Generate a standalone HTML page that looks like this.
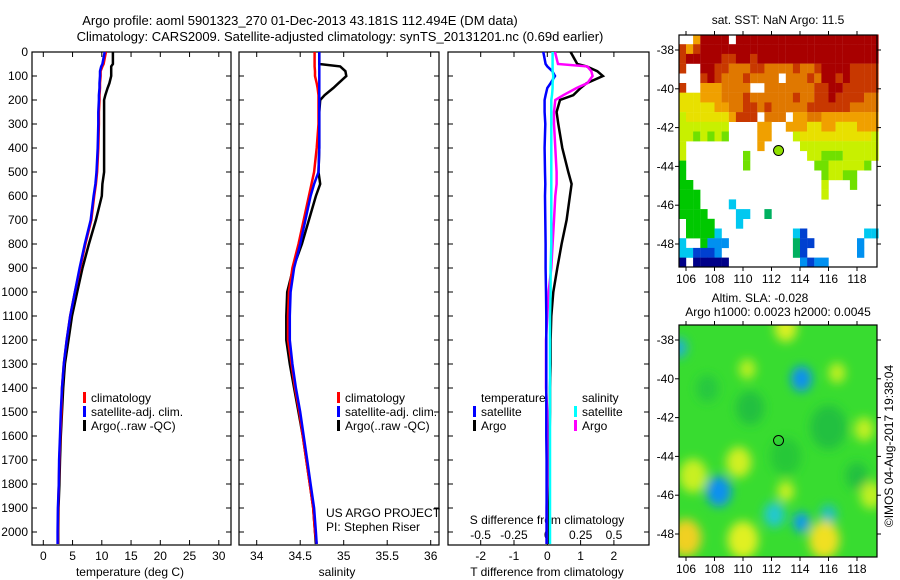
<!DOCTYPE html>
<html><head><meta charset="utf-8">
<style>
body{margin:0;background:#fff;}
svg{display:block;font-family:"Liberation Sans",sans-serif;font-size:12px;}
</style></head>
<body>
<svg id="fig" width="900" height="580" viewBox="0 0 900 580" xmlns="http://www.w3.org/2000/svg">
<defs>
<filter id="blur" x="-50%" y="-50%" width="200%" height="200%"><feGaussianBlur stdDeviation="5"/></filter>
<clipPath id="clipMap2"><rect x="679" y="325" width="198" height="232"/></clipPath>
</defs>
<text x="300" y="25" text-anchor="middle" font-size="13">Argo profile: aoml 5901323_270 01-Dec-2013 43.181S 112.494E (DM data)</text>
<text x="340" y="41" text-anchor="middle" font-size="13">Climatology: CARS2009. Satellite-adjusted climatology: synTS_20131201.nc (0.69d earlier)</text>
<g id="plots"></g>
</svg>
<script>
// ---- data (depth profiles) ----
const depths = [0,50,60,80,100,130,150,180,200,250,300,400,500,550,600,700,800,900,1000,1100,1200,1300,1400,1500,1600,1700,1800,1900,2000,2050];
const climT = [10.7,10.3,10.1,9.8,9.8,9.7,9.7,9.6,9.6,9.5,9.5,9.4,9.2,9.0,8.7,8.2,7.2,6.3,5.4,4.6,4.0,3.5,3.2,3.1,2.9,2.75,2.65,2.55,2.5,2.5];
const satT = [10.5,10.1,9.9,9.7,9.7,9.6,9.6,9.5,9.5,9.4,9.4,9.3,9.1,8.9,8.6,8.1,7.1,6.2,5.4,4.6,4.0,3.5,3.2,3.0,2.85,2.7,2.65,2.5,2.45,2.45];
const argoT = [11.9,11.9,11.6,11.6,11.6,11.3,11.0,10.6,10.4,10.4,10.4,10.4,10.4,10.1,10.0,9.0,7.8,6.7,5.8,4.9,4.3,3.7,3.4,3.2,3.0,2.85,2.75,2.6,2.55,2.55];
const climS = [34.665,34.665,34.665,34.67,34.67,34.69,34.70,34.71,34.71,34.71,34.71,34.69,34.66,34.63,34.60,34.54,34.48,34.41,34.37,34.36,34.36,34.40,34.44,34.49,34.53,34.57,34.61,34.65,34.67,34.69];
const satS = [34.72,34.72,34.72,34.72,34.72,34.72,34.72,34.72,34.72,34.72,34.72,34.72,34.71,34.66,34.62,34.56,34.50,34.43,34.39,34.38,34.38,34.41,34.45,34.50,34.54,34.58,34.62,34.66,34.68,34.69];
const argoS = [34.72,34.72,34.96,35.02,35.03,34.94,34.88,34.78,34.73,34.72,34.72,34.72,34.71,34.73,34.68,34.60,34.52,34.42,34.35,34.34,34.34,34.38,34.43,34.48,34.53,34.57,34.61,34.65,34.67,34.68];
const dArgoT = [0.7,0.9,1.18,1.5,1.67,1.18,1.0,0.78,0.38,0.28,0.33,0.45,0.63,0.73,0.68,0.58,0.43,0.3,0.18,0.12,0.1,0.1,0.08,0.08,0.07,0.06,0.06,0.05,0.05,0.05];
const dArgoS = [0.058,0.08,0.3,0.33,0.34,0.3,0.22,0.12,0.06,0.05,0.05,0.06,0.07,0.07,0.06,0.05,0.04,0.03,0.01,0,-0.01,-0.01,-0.01,0,0,0,0,-0.005,-0.005,-0.005];
const dSatT = [-0.12,-0.05,0.0,0.15,0.23,0.1,0.0,-0.05,-0.08,-0.08,-0.06,-0.08,-0.07,-0.06,-0.07,-0.06,-0.05,-0.05,-0.04,-0.03,-0.03,-0.03,-0.03,-0.03,-0.03,-0.02,-0.02,-0.02,-0.02,-0.02];
const dSatS = [0.04,0.04,0.04,0.04,0.045,0.04,0.04,0.035,0.03,0.03,0.03,0.03,0.03,0.03,0.03,0.03,0.03,0.025,0.025,0.02,0.02,0.02,0.02,0.02,0.02,0.02,0.02,0.02,0.02,0.02];
const depthTicks = [0,100,200,300,400,500,600,700,800,900,1000,1100,1200,1300,1400,1500,1600,1700,1800,1900,2000];
const tempTicks = [0,5,10,15,20,25,30];
const salTicks = [34,34.5,35,35.5,36];
const tdiffTicks = [-2,-1,0,1,2];
const sdiffTicks = [-0.5,-0.25,0,0.25,0.5];
const sdiffLabels = ["-0.5","-0.25","0","0.25","0.5"];
const lonTicks = [106,108,110,112,114,116,118];
const latTicks = [-38,-40,-42,-44,-46,-48];
const floatLon = 112.494, floatLat = -43.181;
const sstGrid = [
"..ORRRR.RRRRRRRRRRRRRRRRRRRR",
"rOrRRRRRRRRRRRRRRRRRRRRRRRRR",
"rRRRRRrrRRrRRRRRRRRRRRRRRRRR",
"r..RRrrooorrooooroorRRRRrrrr",
"...rRroooroooo.oooroRRrRrrrr",
"r..OOOoooo..ooooooorrRRrrrrr",
"yyyOOOooorooooooroorrRrrrroo",
"yyyyyOOoorrorooooorrrrrroooo",
"YyyyyyyOrrr.ooo.OOooOOOOOOOO",
"YYYYYYY....OO..OOOyyOOyyyOOO",
"YYgYgYg....OO...YyyyyyyyyyyY",
"Y..........O.....YYYYYYYYYYY",
"Y........g........YYgggYYYYY",
"G........g.........ggYYYYYg.",
"G...................gYYgg...",
"GG..................Y...g...",
"GGG.................Y.......",
"GGG....c....................",
"GGGG....cc..t...............",
".GGGG...c...................",
".GGGGc..........cB........cc",
"c..Gbbb.........tBB......b..",
"ccBBBb..........tB.......b..",
"N.NNNNN..........bBbb......."];
const slaBlobs = [[114.1,-40.0,'#1090f0',0.75],[108.3,-45.8,'#1090f0',0.9],[112.2,-47.0,'#20c8d0',0.75],[114.1,-47.4,'#1098f0',0.6],[116.0,-47.0,'#20c0c0',0.6],[105.5,-38.4,'#20b0d0',0.6],
[113,-37.4,'#d8f020',0.8],[110.3,-39.5,'#b8f020',0.6],[116.6,-39.7,'#c0f020',0.6],[118.5,-42.6,'#c0f020',0.7],[109.7,-44.3,'#d0f020',0.9],[106.5,-45,'#c8f020',1.0],[106,-48.2,'#f0d020',1.1],[110,-48.3,'#e0f020',1.1],[115.7,-48.3,'#f0e020',1.1],[113,-45.8,'#c8f020',0.6],[119,-46,'#c0f020',0.8],
[110.5,-41.5,'#20c040',1.0],[116,-42.5,'#20c040',1.3],[113,-44,'#28c838',1.1],[118,-45,'#20c040',0.8],[107.5,-40.5,'#28c840',0.8]];

const NS='http://www.w3.org/2000/svg';
const root=document.getElementById('plots');
function mk(tag,attrs,parent){const e=document.createElementNS(NS,tag);for(const k in attrs)e.setAttribute(k,attrs[k]);(parent||root).appendChild(e);return e;}
function txt(x,y,s,anchor,parent,size){const e=mk('text',{x:x,y:y,'text-anchor':anchor||'start'},parent);if(size)e.setAttribute('font-size',size);e.textContent=s;return e;}

const yTop=52,yBot=545;
function yD(d){return yTop+d*0.24;}
const xT=v=>43.3+v*5.85;
const xS=v=>256.7+(v-34)*87;
const xTd=v=>547.3+v*33.3;
const xSd=v=>547.3+v*133.3;

function panel(x0,x1,name){
  const g=mk('g',{});
  
  
  const r=mk('rect',{x:x0,y:yTop,width:x1-x0,height:yBot-yTop,fill:'none',stroke:'#000','stroke-width':1.2},g);
  
  
  depthTicks.forEach(d=>{
    mk('line',{x1:x0,x2:x0+5,y1:yD(d),y2:yD(d),stroke:'#000'},g);
    mk('line',{x1:x1-5,x2:x1,y1:yD(d),y2:yD(d),stroke:'#000'},g);
  });
  return g;
}
function line(g,xs,xf,color,name,w){
  const pts=depths.map((d,i)=>xf(xs[i]).toFixed(1)+','+yD(d).toFixed(1)).join(' ');
  const p=mk('polyline',{points:pts,fill:'none',stroke:color,'stroke-width':w||2.5,'stroke-linejoin':'miter'},g);
  
  
}
function xticks(g,ticks,xf,labels,ly,topTicks){
  ticks.forEach((t,i)=>{
    const x=xf(t);
    mk('line',{x1:x,x2:x,y1:yBot,y2:yBot-5,stroke:'#000'},g);
    if(topTicks) mk('line',{x1:x,x2:x,y1:yTop,y2:yTop+5,stroke:'#000'},g);
    const l=txt(x,ly,labels?labels[i]:String(t),'middle',g);
    
    
  });
}
function legend(g,x,y,items){
  items.forEach((it,i)=>{
    mk('rect',{x:x,y:y+i*14-10,width:3,height:11,fill:it[0]},g);
    const t=txt(x+8,y+i*14,it[1],'start',g);
    
    
  });
}

// Panel 1 temperature
const p1=panel(32,231,'temperature-panel');
depthTicks.forEach(d=>{const t=txt(28,yD(d)+4,String(d),'end',p1);});
xticks(p1,tempTicks,xT,null,560,true);
const xl1=txt(130,576,'temperature (deg C)','middle',p1);


line(p1,argoT,xT,'#000','argo-temperature-line');
line(p1,climT,xT,'#f00','climatology-temperature-line');
line(p1,satT,xT,'#00f','satellite-temperature-line');
legend(p1,83,402,[['#f00','climatology'],['#00f','satellite-adj. clim.'],['#000','Argo(..raw -QC)']]);

// Panel 2 salinity
const p2=panel(239,439,'salinity-panel');
xticks(p2,salTicks,xS,null,560,true);
const xl2=txt(337,576,'salinity','middle',p2);


line(p2,argoS,xS,'#000','argo-salinity-line');
line(p2,climS,xS,'#f00','climatology-salinity-line');
line(p2,satS,xS,'#00f','satellite-salinity-line');
legend(p2,337,402,[['#f00','climatology'],['#00f','satellite-adj. clim.'],['#000','Argo(..raw -QC)']]);
const us=txt(326,517,'US ARGO PROJECT','start',p2);


const pi=txt(326,531,'PI: Stephen Riser','start',p2);



// Panel 3 differences
const p3=panel(448,649,'difference-panel');
xticks(p3,tdiffTicks,xTd,null,560,true);
sdiffTicks.forEach((t,i)=>{const l=txt(xSd(t),539,sdiffLabels[i],'middle',p3);});
const xl3=txt(547,576,'T difference from climatology','middle',p3);


const sl3=txt(547,524,'S difference from climatology','middle',p3);


line(p3,dArgoT,xTd,'#000','argo-t-diff-line');
line(p3,dArgoS,xSd,'#f0f','argo-s-diff-line');
line(p3,dSatT,xTd,'#00f','satellite-t-diff-line');
line(p3,dSatS,xSd,'#0ff','satellite-s-diff-line');
const lt=txt(481,402,'temperature','start',p3);
const ls=txt(582,402,'salinity','start',p3);
legend(p3,473,416,[['#00f','satellite'],['#000','Argo']]);
legend(p3,574,416,[['#0ff','satellite'],['#f0f','Argo']]);

// Maps
const mx0=679,mx1=877;
const lonX=l=>686+(l-106)*14.25;
function mapAxes(g,y0,y1,latY){
  mk('rect',{x:mx0,y:y0,width:mx1-mx0,height:y1-y0,fill:'none',stroke:'#000','stroke-width':1.2},g);
  lonTicks.forEach(l=>{const x=lonX(l);mk('line',{x1:x,x2:x,y1:y0,y2:y0-4,stroke:'#000'},g);mk('line',{x1:x,x2:x,y1:y1,y2:y1+4,stroke:'#000'},g);
    const t=txt(x,y1+16,String(l),'middle',g);});
  latTicks.forEach(l=>{const y=latY(l);mk('line',{x1:mx0,x2:mx0-4,y1:y,y2:y,stroke:'#000'},g);mk('line',{x1:mx1,x2:mx1+4,y1:y,y2:y,stroke:'#000'},g);
    const t=txt(674,y+4,String(l),'end',g);});
}
// SST map
const m1=mk('g',{});


const latY1=l=>50+(-38-l)*19.4;
const cmap={R:'#a80000',r:'#c83800',o:'#e07800',O:'#f0a000',y:'#e8e000',Y:'#c8f000',g:'#70e000',G:'#00c800',t:'#00b060',c:'#00c8f0',b:'#0090f0',B:'#0040d0',N:'#000088'};
sstGrid.forEach((row,j)=>{for(let i=0;i<row.length;i++){const ch=row[i];if(ch==='.')continue;
  const lon=105.5+i*0.5,lat=-37.2-j*0.5;
  const x=lonX(lon),y=latY1(lat);
  const c=mk('rect',{x:x.toFixed(1),y:y.toFixed(1),width:7.3,height:9.9,fill:cmap[ch]},m1);
  
  
}});
mapAxes(m1,35,267,latY1);
const fc1=mk('circle',{cx:lonX(floatLon),cy:latY1(floatLat),r:5,fill:'#90e000',stroke:'#000'},m1);


const st=txt(778,24,'sat. SST: NaN Argo: 11.5','middle',m1);



// SLA map
const m2=mk('g',{});


const latY2=l=>340+(-38-l)*19.4;
const inner=mk('g',{'clip-path':'url(#clipMap2)'},m2);
mk('rect',{x:mx0,y:325,width:mx1-mx0,height:232,fill:'#38dc30'},inner);
const bg=mk('g',{filter:'url(#blur)'},inner);
slaBlobs.forEach(b=>{
  const e=mk('ellipse',{cx:lonX(b[0]),cy:latY2(b[1]),rx:14*b[3],ry:17*b[3],fill:b[2]},bg);
  
  
});
mapAxes(m2,325,557,latY2);
const fc2=mk('circle',{cx:lonX(floatLon),cy:latY2(floatLat),r:5,fill:'none',stroke:'#000'},m2);


const t1=txt(760,302,'Altim. SLA: -0.028','middle',m2);


const t2=txt(778,316,'Argo h1000: 0.0023 h2000: 0.0045','middle',m2);


const cp=txt(0,0,'©IMOS 04-Aug-2017 19:38:04','middle',m2);
cp.setAttribute('transform','translate(893,446) rotate(-90)');


</script>
</body></html>
